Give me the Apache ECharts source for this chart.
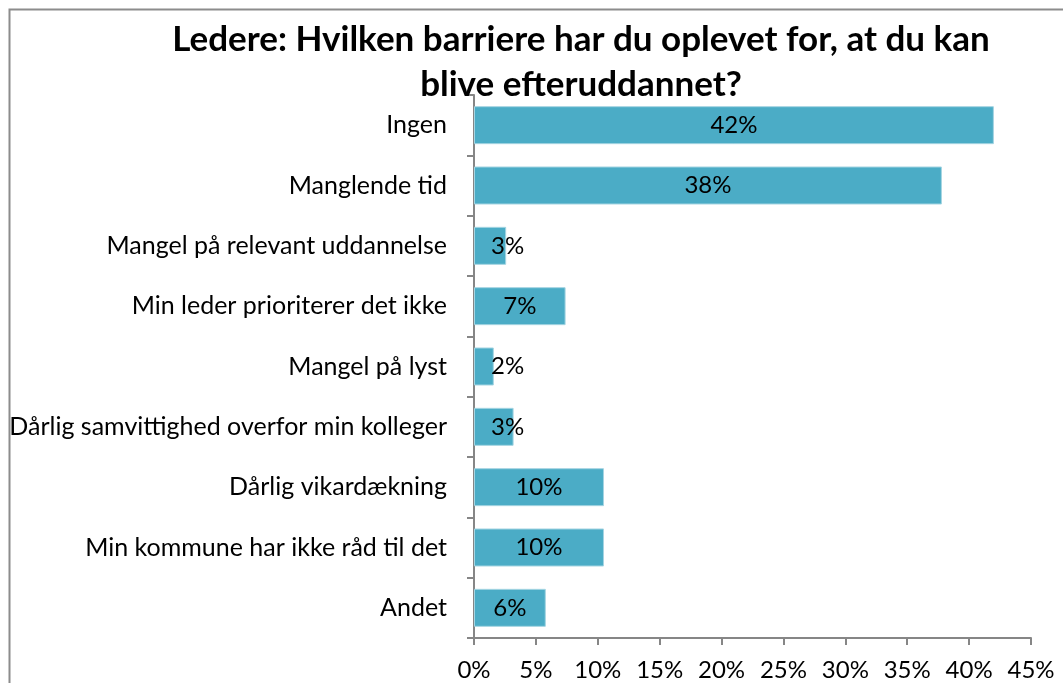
<!DOCTYPE html>
<html lang="da" style="height: 100%">
<head>
    <meta charset="utf-8">
    <title>Ledere: barrierer for efteruddannelse</title>
    <script src="https://cdn.jsdelivr.net/npm/echarts@6/dist/echarts.min.js"></script>
</head>
<body style="height: 100%; margin: 0; background: #fff">
    <div id="main" style="width: 1063px; height: 683px"></div>
    <script>
        // kategorier (oppefra og ned)
        const categories = [
            'Ingen',
            'Manglende tid',
            'Mangel på relevant uddannelse',
            'Min leder prioriterer det ikke',
            'Mangel på lyst',
            'Dårlig samvittighed overfor min kolleger',
            'Dårlig vikardækning',
            'Min kommune har ikke råd til det',
            'Andet'
        ];
        // andele i procent, aflæst fra søjlerne
        const values = [42.0, 37.8, 2.6, 7.4, 1.6, 3.2, 10.5, 10.5, 5.8];
        // teksten der står på søjlerne
        const barLabels = ['42%', '38%', '3%', '7%', '2%', '3%', '10%', '10%', '6%'];
        const xTicks = [0, 5, 10, 15, 20, 25, 30, 35, 40, 45];

        const font = 'Lato, "Open Sans", sans-serif';
        const axisGray = '#868686';

        const chart = echarts.init(document.getElementById('main'), null, { renderer: 'canvas' });

        const data = values.map((v, i) => {
            const item = { value: v };
            // korte søjler: Excel skubber etiketten væk fra aksen
            if (v < 4) {
                item.label = { position: 'insideLeft', distance: 17 };
            }
            return item;
        });

        chart.setOption({
            animation: false,
            title: {
                text: 'Ledere: Hvilken barriere har du oplevet for, at du kan\nblive efteruddannet?',
                left: 581,
                top: 17,
                padding: 0,
                textAlign: 'center',
                textStyle: {
                    fontFamily: font,
                    fontWeight: 'bold',
                    fontSize: 35,
                    lineHeight: 45,
                    color: '#000'
                }
            },
            graphic: [{
                type: 'rect',
                shape: { x: 9.5, y: 9.5, width: 1200, height: 800 },
                style: { fill: null, stroke: '#8c8c8c', lineWidth: 2 },
                silent: true
            }],
            grid: {
                left: 474,
                right: 32,
                top: 95,
                bottom: 45
            },
            xAxis: {
                type: 'value',
                min: xTicks[0],
                max: xTicks[xTicks.length - 1],
                interval: 5,
                axisLine: { show: true, lineStyle: { color: axisGray, width: 2 } },
                axisTick: { show: true, length: 7, lineStyle: { color: axisGray, width: 2 } },
                splitLine: { show: false },
                axisLabel: {
                    formatter: '{value}%',
                    margin: 20,
                    fontFamily: font,
                    fontSize: 24,
                    color: '#000'
                }
            },
            yAxis: {
                type: 'category',
                inverse: true,
                data: categories,
                axisLine: { show: true, lineStyle: { color: axisGray, width: 2 } },
                axisTick: { show: true, length: 7, lineStyle: { color: axisGray, width: 2 } },
                axisLabel: {
                    margin: 27,
                    fontFamily: font,
                    fontSize: 25,
                    color: '#000'
                }
            },
            series: [{
                type: 'bar',
                data: data,
                barCategoryGap: '37%',
                itemStyle: {
                    color: '#4bacc6',
                    borderColor: '#a5d5e2',
                    borderWidth: 1
                },
                label: {
                    show: true,
                    position: 'inside',
                    formatter: p => barLabels[p.dataIndex],
                    fontFamily: font,
                    fontSize: 24,
                    color: '#000'
                }
            }]
        });
    </script>
</body>
</html>
